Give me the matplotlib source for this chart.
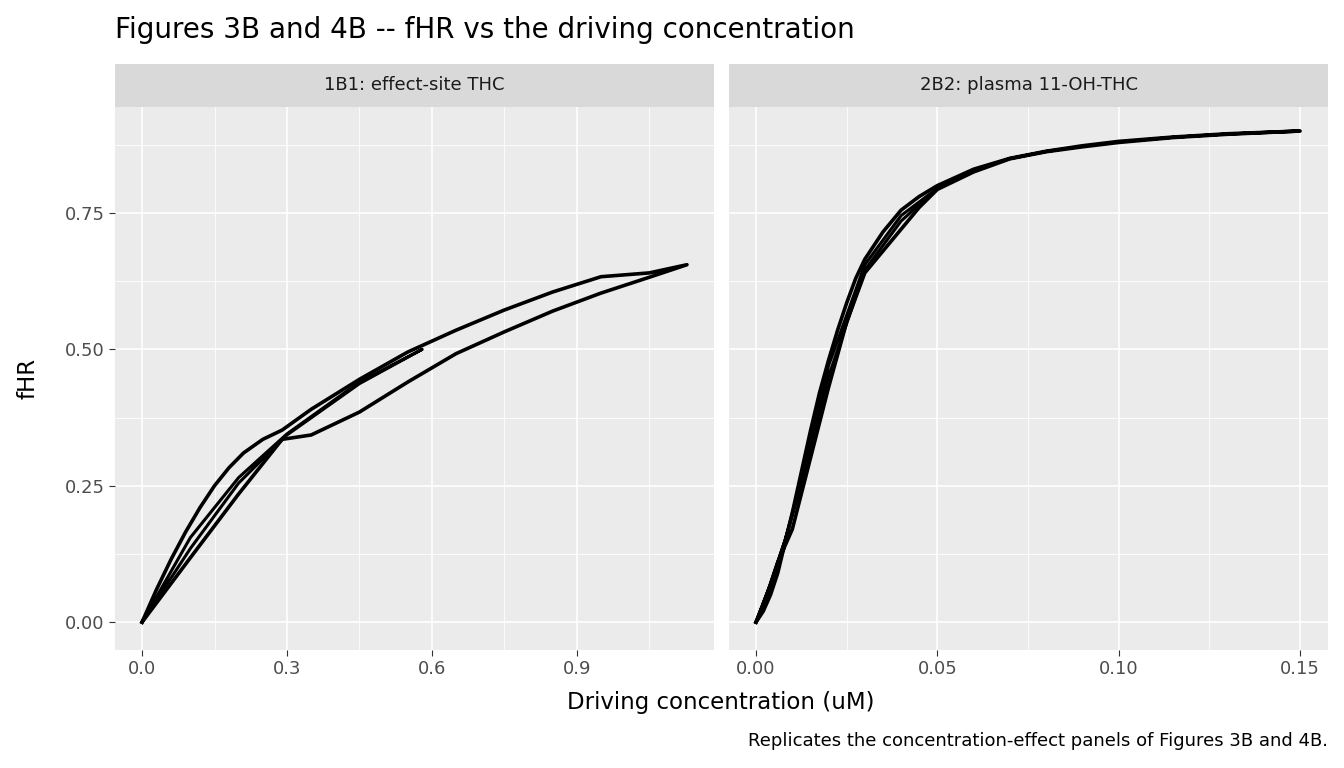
import matplotlib
matplotlib.use("Agg")
import matplotlib.pyplot as plt

titles = ["1B1: effect-site THC", "2B2: plasma 11-OH-THC"]
x1 = [0, 0.03, 0.06, 0.09, 0.12, 0.15, 0.18, 0.21, 0.25, 0.29, 0.35, 0.45, 0.55, 0.65, 0.75, 0.85, 0.95, 1.05, 1.128,
      1.05, 0.95, 0.85, 0.75, 0.65, 0.55, 0.45, 0.35, 0.29, 0.2, 0.1, 0.05, 0]
y1 = [0, 0.06, 0.115, 0.165, 0.21, 0.25, 0.283, 0.31, 0.335, 0.352, 0.39, 0.445, 0.495, 0.535, 0.572, 0.605, 0.633, 0.64 + 0.0, 0.655,
      0.632, 0.603, 0.57, 0.532, 0.492, 0.44, 0.385, 0.343, 0.335, 0.235, 0.118, 0.059, 0]
x2 = [0, 0.002, 0.004, 0.006, 0.008, 0.01, 0.0125, 0.015, 0.0175, 0.02, 0.0225, 0.025, 0.0275, 0.03, 0.035, 0.04, 0.045,
      0.05, 0.055, 0.06, 0.07, 0.08, 0.09, 0.1, 0.115, 0.13, 0.15,
      0.13, 0.115, 0.1, 0.09, 0.08, 0.07, 0.06, 0.05, 0.045, 0.04, 0.035, 0.03, 0.025, 0.02, 0.015, 0.01, 0.006, 0.003, 0]
y2 = [0, 0.02, 0.05, 0.09, 0.145, 0.2, 0.275, 0.35, 0.42, 0.48, 0.535, 0.585, 0.63, 0.665, 0.715, 0.755, 0.78,
      0.8, 0.815, 0.83, 0.85, 0.863, 0.873, 0.881, 0.889, 0.895, 0.9,
      0.894, 0.888, 0.879, 0.871, 0.862, 0.849, 0.825, 0.793, 0.76, 0.72, 0.68, 0.64, 0.55, 0.43, 0.3, 0.17, 0.11, 0.05, 0]
# inner loops (multiple cycles thicken the band)
x1b = [0, 0.1, 0.2, 0.3, 0.45, 0.58, 0.45, 0.3, 0.2, 0.1, 0]
y1b = [0, 0.155, 0.265, 0.345, 0.44, 0.5, 0.437, 0.343, 0.255, 0.135, 0]
x2b = [0, 0.004, 0.008, 0.012, 0.02, 0.03, 0.04, 0.05, 0.04, 0.03, 0.02, 0.012, 0.008, 0.004, 0]
y2b = [0, 0.07, 0.15, 0.25, 0.47, 0.655, 0.745, 0.795, 0.735, 0.645, 0.45, 0.24, 0.15, 0.07, 0]

fig = plt.figure(figsize=(13.44, 7.68), dpi=100)
W, H = 1344, 768
def ax_at(l, t, r, b):
    return fig.add_axes([l / W, 1 - b / H, (r - l) / W, (b - t) / H])

ax1 = ax_at(115, 107, 714, 650)
ax2 = ax_at(729, 107, 1328, 650)
data = [(ax1, x1, y1, x1b, y1b, (-0.056, 1.184), [0, 0.3, 0.6, 0.9], ["0.0", "0.3", "0.6", "0.9"], [0.15, 0.45, 0.75, 1.05]),
        (ax2, x2, y2, x2b, y2b, (-0.00744, 0.1577), [0, 0.05, 0.1, 0.15], ["0.00", "0.05", "0.10", "0.15"], [0.025, 0.075, 0.125])]
for i, (ax, x, y, xb, yb, xl, xt, xtl, xm) in enumerate(data):
    ax.set_facecolor("#EBEBEB")
    ax.plot(x, y, color="black", lw=2.6, solid_joinstyle="round")
    ax.plot(xb, yb, color="black", lw=2.2, solid_joinstyle="round")
    ax.set_xlim(*xl)
    ax.set_ylim(-0.051, 0.944)
    ax.set_xticks(xt)
    ax.set_xticklabels(xtl)
    ax.set_xticks(xm, minor=True)
    ax.set_yticks([0, 0.25, 0.5, 0.75])
    ax.set_yticks([0.125, 0.375, 0.625, 0.875], minor=True)
    ax.grid(which="major", color="white", lw=1.2)
    ax.grid(which="minor", color="white", lw=0.6)
    ax.set_axisbelow(True)
    for s in ax.spines.values():
        s.set_visible(False)
    ax.tick_params(which="minor", length=0)
    ax.tick_params(which="major", color="#333333", length=4, labelsize=13, labelcolor="#4D4D4D")
    if i == 0:
        ax.set_yticklabels(["0.00", "0.25", "0.50", "0.75"])
    else:
        ax.tick_params(axis="y", left=False, labelleft=False)
    strip = ax.inset_axes([0, 1.0, 1, 43 / 543])
    strip.set_facecolor("#D9D9D9")
    strip.set_xticks([]); strip.set_yticks([])
    for s in strip.spines.values():
        s.set_visible(False)
    strip.text(0.5, 0.5, titles[i], ha="center", va="center", fontsize=13, color="#1A1A1A")

fig.text(115 / W, 1 - 30 / H, "Figures 3B and 4B -- fHR vs the driving concentration", fontsize=20, va="center")
fig.text(721 / W, 1 - 702 / H, "Driving concentration (uM)", fontsize=16.5, ha="center", va="center")
fig.text(28 / W, 1 - 378 / H, "fHR", fontsize=16.5, rotation=90, ha="center", va="center")
fig.text(1328 / W, 1 - 741 / H, "Replicates the concentration-effect panels of Figures 3B and 4B.",
         fontsize=13, ha="right", va="center")
fig.savefig("out.png", dpi=100)
